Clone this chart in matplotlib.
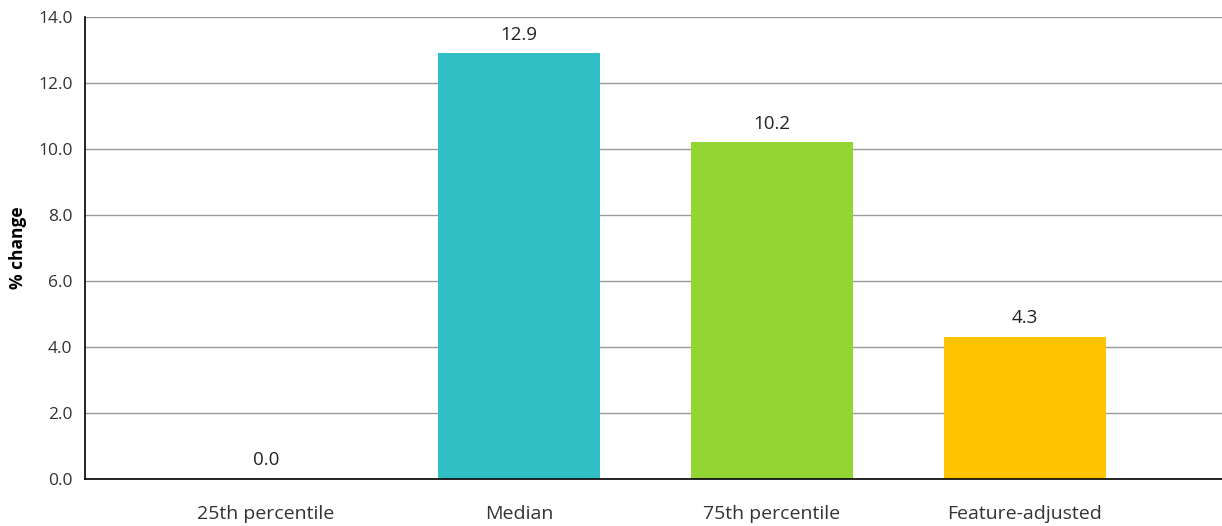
import matplotlib
matplotlib.use('Agg')
import matplotlib.pyplot as plt

categories = ['25th percentile', 'Median', '75th percentile', 'Feature-adjusted']
values = [0.0, 12.9, 10.2, 4.3]
bar_colors = ['#31BFC6', '#31BFC6', '#93D633', '#FFC400']
yticks = [0, 2, 4, 6, 8, 10, 12, 14]

plt.rcParams.update({'font.family': ['Open Sans', 'DejaVu Sans'], 'font.size': 12.5})
fig = plt.figure(figsize=(12.22, 5.26), dpi=100)
ax = fig.add_axes((0.0696, 0.0894, 0.9304, 0.8783))

xs = list(range(len(categories)))
bars = ax.bar(xs, values, width=0.64, color=bar_colors, zorder=2)

for x, v in zip(xs, values):
    ax.annotate('%.1f' % v, (x, v), xytext=(0, 7), textcoords='offset points',
                ha='center', va='bottom', fontsize=13.5, color='#222222')

ax.set_xlim(-0.715, 3.78)
ax.set_ylim(0, 14)
ax.set_yticks(yticks)
ax.set_yticklabels(['%.1f' % t for t in yticks])
ax.set_xticks(xs)
ax.set_xticklabels(categories, fontsize=14)
ax.tick_params(axis='y', length=0, pad=9, labelcolor='#333333')
ax.tick_params(axis='x', length=0, pad=19, labelcolor='#333333')
ax.set_ylabel('% change', fontweight='bold', fontsize=12.5, labelpad=8)

ax.yaxis.grid(True, color='#9a9a9a', linewidth=1, zorder=0)
ax.set_axisbelow(True)
ax.spines['top'].set_visible(False)
ax.spines['right'].set_visible(False)
ax.spines['left'].set_linewidth(1.2)
ax.spines['bottom'].set_linewidth(1.2)
ax.spines['bottom'].set_zorder(3)

fig.savefig('out.png', dpi=100)
